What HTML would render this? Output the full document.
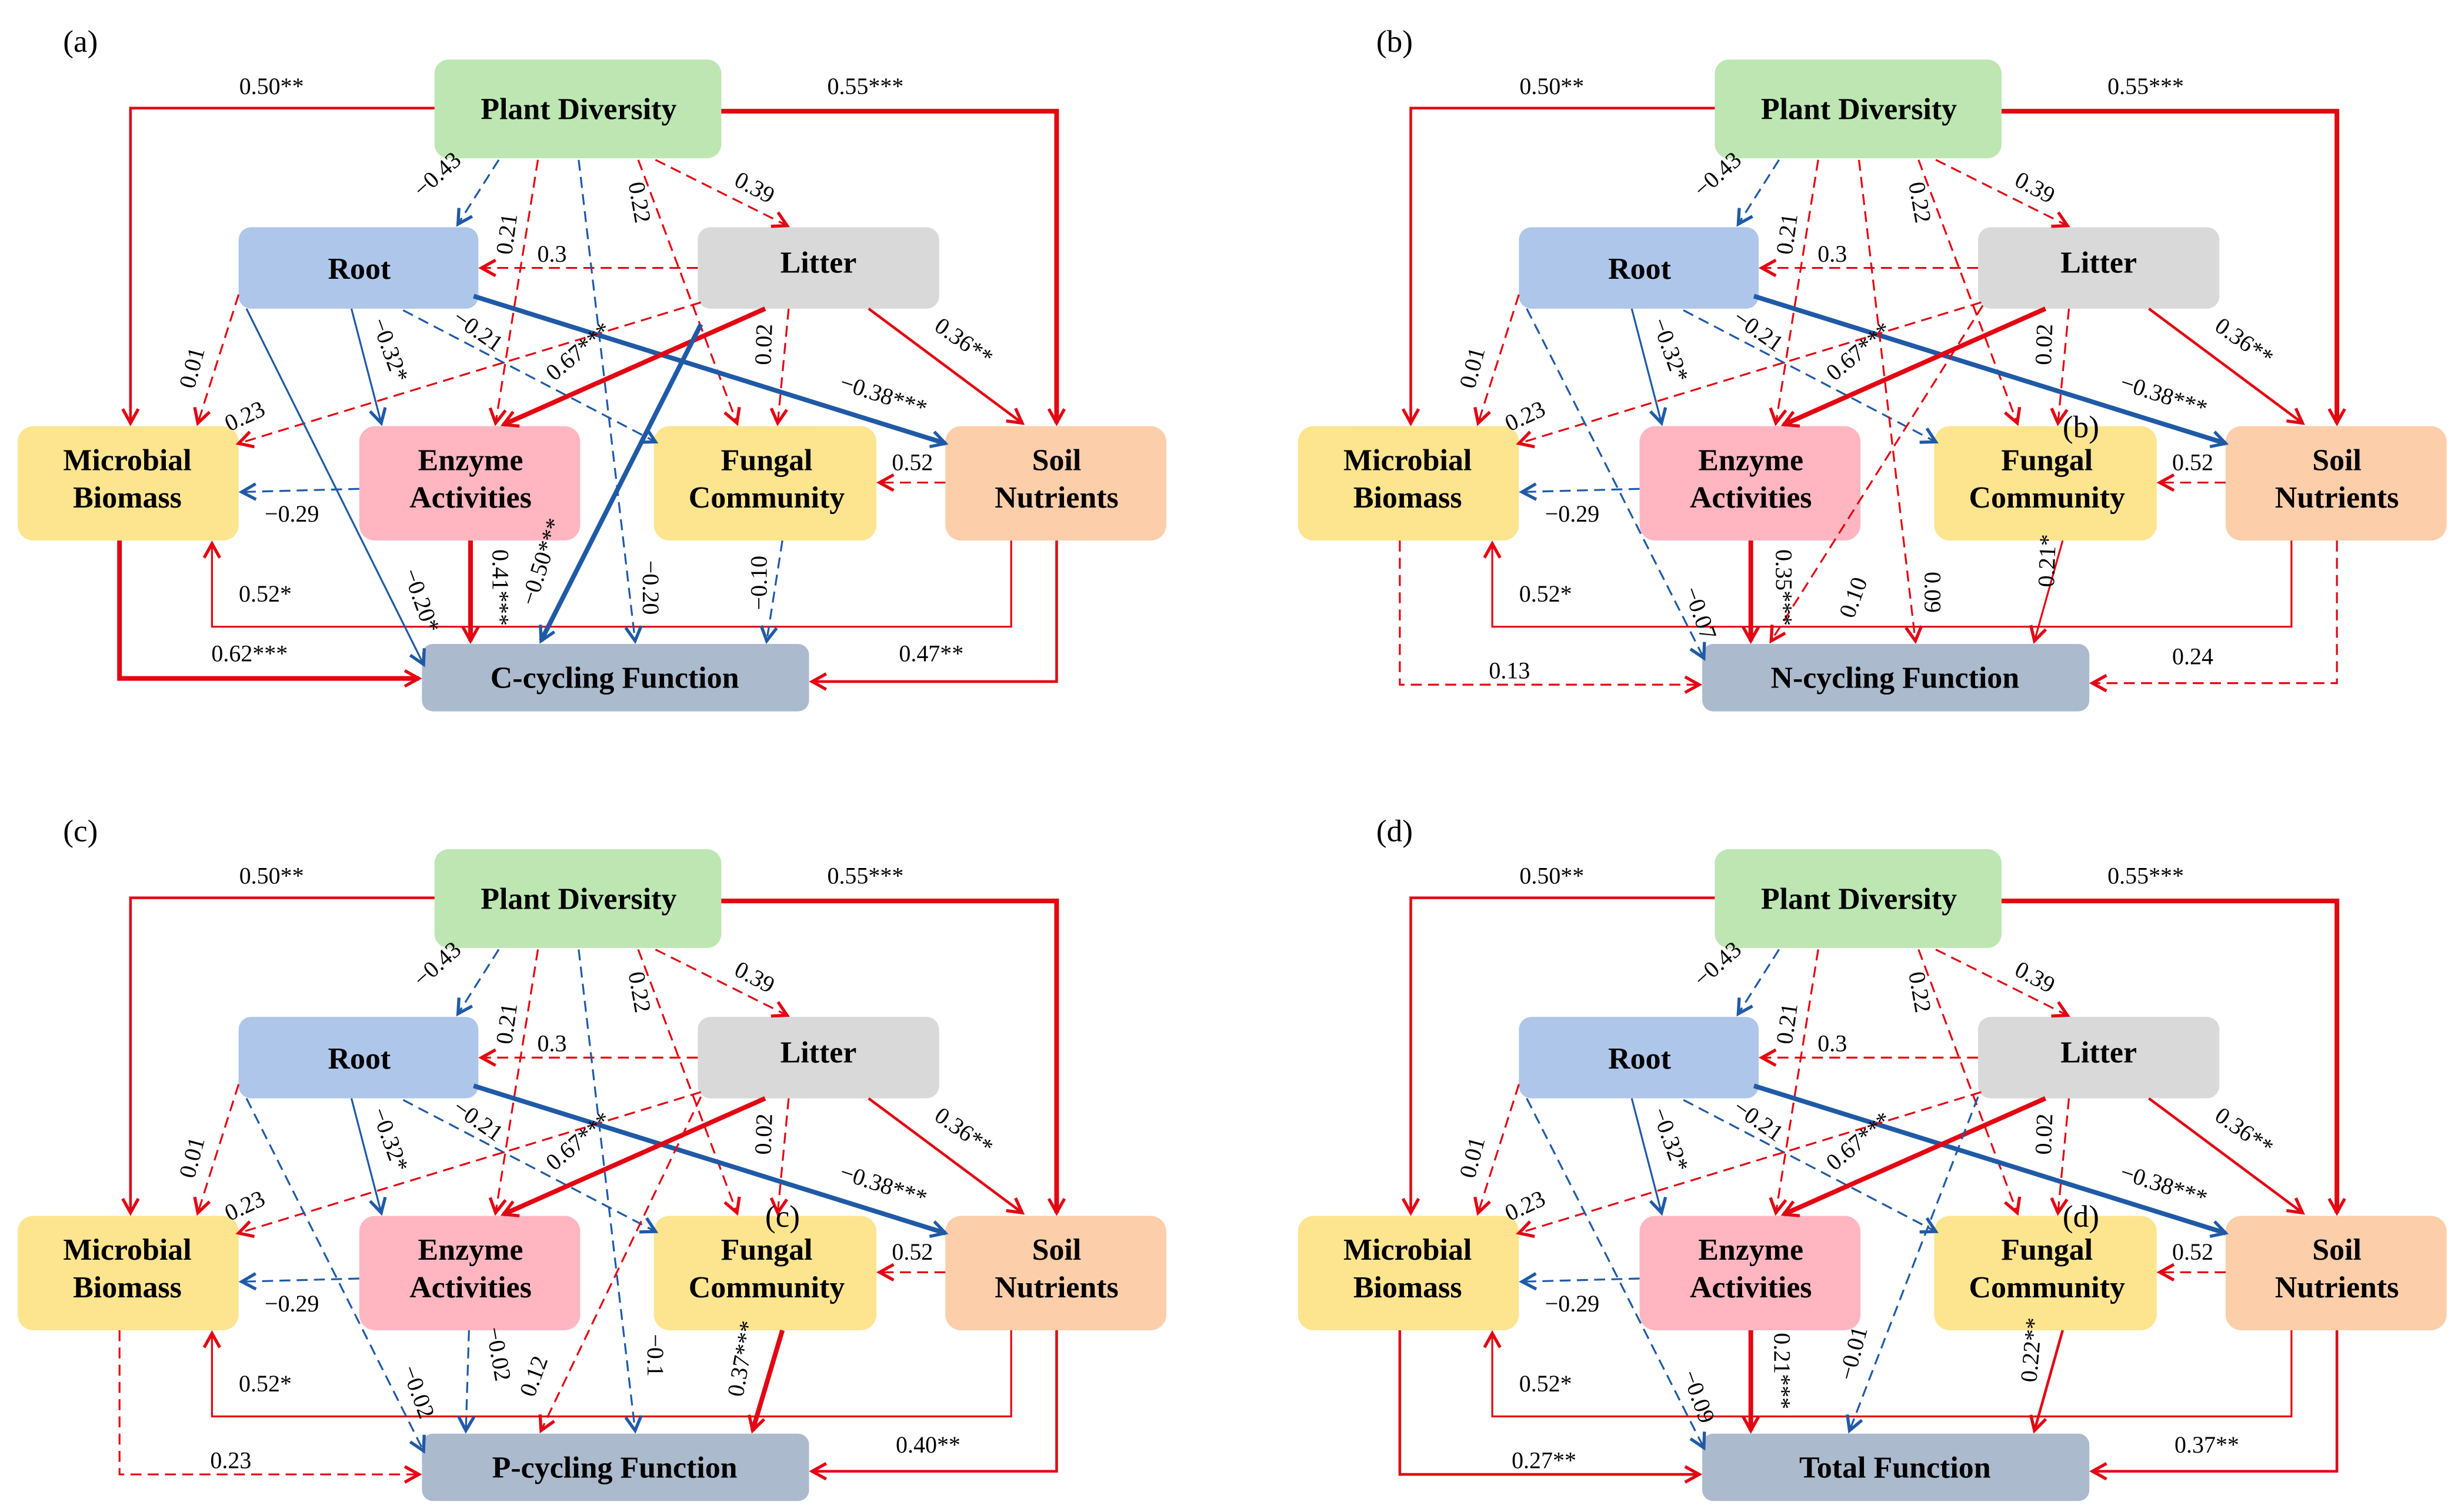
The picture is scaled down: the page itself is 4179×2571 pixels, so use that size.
<!DOCTYPE html>
<html><head><meta charset="utf-8"><style>
html,body{margin:0;padding:0;background:#fff;}
svg{display:block;}
text{font-family:"Liberation Serif",serif;fill:#000;}
.bt{font-family:"Liberation Serif",serif;font-weight:bold;font-size:19.5px;text-anchor:middle;}
.lb{font-family:"Liberation Serif",serif;font-size:15px;text-anchor:middle;}
.pl{font-family:"Liberation Serif",serif;font-size:20px;}
.r{stroke:#e30613;fill:none;}
.b{stroke:#1f5aa6;fill:none;}
.d{stroke-dasharray:7,4;}
.t1{stroke-width:1.2;}
.t2{stroke-width:1.7;}
.t3{stroke-width:3;}
</style></head><body>
<svg width="4179" height="2571" viewBox="0 0 1568 965" xmlns="http://www.w3.org/2000/svg">
<defs>
<marker id="ar" markerUnits="userSpaceOnUse" markerWidth="14" markerHeight="14" refX="10" refY="6" orient="auto"><path d="M1,1 L10,6 L1,11" fill="none" stroke="#e30613" stroke-width="2"/></marker>
<marker id="ab" markerUnits="userSpaceOnUse" markerWidth="14" markerHeight="14" refX="10" refY="6" orient="auto"><path d="M1,1 L10,6 L1,11" fill="none" stroke="#1f5aa6" stroke-width="2"/></marker>
</defs>

<g id="pa">
<rect x="277" y="38" width="183" height="63" rx="9" fill="#bde6b3"/>
<rect x="152" y="145" width="153" height="52" rx="8" fill="#aec6ea"/>
<rect x="445" y="145" width="154" height="52" rx="8" fill="#d9d9d9"/>
<rect x="11" y="272" width="141" height="73" rx="10" fill="#fde48f"/>
<rect x="229" y="272" width="141" height="73" rx="10" fill="#ffb6c1"/>
<rect x="417" y="272" width="142" height="73" rx="10" fill="#fde48f"/>
<rect x="603" y="272" width="141" height="73" rx="10" fill="#fcceaa"/>
<rect x="269" y="411" width="247" height="43" rx="7" fill="#acbacd"/>
<text class="bt" x="369" y="76">Plant Diversity</text>
<text class="bt" x="229" y="178">Root</text>
<text class="bt" x="522" y="174">Litter</text>
<text class="bt" x="81" y="300">Microbial</text><text class="bt" x="81" y="324">Biomass</text>
<text class="bt" x="300" y="300">Enzyme</text><text class="bt" x="300" y="324">Activities</text>
<text class="bt" x="489" y="300">Fungal</text><text class="bt" x="489" y="324">Community</text>
<text class="bt" x="674" y="300">Soil</text><text class="bt" x="674" y="324">Nutrients</text>

<polyline class="r t2" points="277,69 83,69 83,270" marker-end="url(#ar)"/>
<polyline class="r t3" points="460,71 674,71 674,270" marker-end="url(#ar)"/>
<line class="b d t1" x1="318" y1="102" x2="292" y2="143" marker-end="url(#ab)"/>
<line class="r d t1" x1="343" y1="102" x2="316" y2="270" marker-end="url(#ar)"/>
<line class="r d t1" x1="407" y1="102" x2="470" y2="270" marker-end="url(#ar)"/>
<line class="r d t1" x1="418" y1="102" x2="502" y2="144" marker-end="url(#ar)"/>
<line class="r d t1" x1="445" y1="171" x2="307" y2="171" marker-end="url(#ar)"/>
<line class="r d t1" x1="152" y1="188" x2="126" y2="270" marker-end="url(#ar)"/>
<line class="b t1" x1="224" y1="197" x2="243" y2="270" marker-end="url(#ab)"/>
<line class="b d t1" x1="257" y1="198" x2="418" y2="282" marker-end="url(#ab)"/>
<line class="b t3" x1="302" y1="189" x2="603" y2="283" marker-end="url(#ab)"/>
<line class="r d t1" x1="447" y1="193" x2="152" y2="283" marker-end="url(#ar)"/>
<line class="r t3" x1="488" y1="197" x2="321" y2="271" marker-end="url(#ar)"/>
<line class="r d t1" x1="503" y1="197" x2="496" y2="270" marker-end="url(#ar)"/>
<line class="r t2" x1="554" y1="197" x2="652" y2="270" marker-end="url(#ar)"/>
<line class="r d t1" x1="603" y1="308" x2="561" y2="308" marker-end="url(#ar)"/>
<line class="b d t1" x1="229" y1="312" x2="154" y2="314" marker-end="url(#ab)"/>
<polyline class="r t1" points="645,345 645,400 135,400 135,347" marker-end="url(#ar)"/>

<text class="lb" x="173" y="60">0.50**</text>
<text class="lb" x="552" y="60">0.55***</text>
<text class="lb" transform="rotate(-42 282 115)" x="282" y="115">−0.43</text>
<text class="lb" transform="rotate(-82 328 150)" x="328" y="150">0.21</text>
<text class="lb" transform="rotate(80 403 130)" x="403" y="130">0.22</text>
<text class="lb" transform="rotate(28 479 124)" x="479" y="124">0.39</text>
<text class="lb" x="352" y="167">0.3</text>
<text class="lb" transform="rotate(-75 127 236)" x="127" y="236">0.01</text>
<text class="lb" transform="rotate(70 244 225)" x="244" y="225">−0.32*</text>
<text class="lb" transform="rotate(35 302 215)" x="302" y="215">−0.21</text>
<text class="lb" transform="rotate(-40 372 228)" x="372" y="228">0.67***</text>
<text class="lb" transform="rotate(-88 492 220)" x="492" y="220">0.02</text>
<text class="lb" transform="rotate(35 612 222)" x="612" y="222">0.36**</text>
<text class="lb" transform="rotate(18 562 257)" x="562" y="257">−0.38***</text>
<text class="lb" transform="rotate(-25 158 270)" x="158" y="270">0.23</text>
<text class="lb" x="582" y="300">0.52</text>
<text class="lb" x="186" y="333">−0.29</text>
<text class="lb" x="169" y="384">0.52*</text>
</g>
<use href="#pa" x="817" y="0"/>
<use href="#pa" x="0" y="504"/>
<use href="#pa" x="817" y="504"/>

<text class="pl" x="40" y="33">(a)</text>
<text class="pl" x="878" y="33">(b)</text>
<text class="pl" x="40" y="537">(c)</text>
<text class="pl" x="878" y="537">(d)</text>
<text class="pl" x="1316" y="279">(b)</text>
<text class="pl" x="488" y="783">(c)</text>
<text class="pl" x="1316" y="783">(d)</text>

<text class="bt" x="392" y="439">C-cycling Function</text>
<line class="b d t1" x1="369" y1="102" x2="405" y2="409" marker-end="url(#ab)"/>
<line class="b t1" x1="157" y1="197" x2="270" y2="424" marker-end="url(#ab)"/>
<line class="b t3" x1="447" y1="207" x2="345" y2="409" marker-end="url(#ab)"/>
<line class="r t3" x1="300" y1="345" x2="300" y2="409" marker-end="url(#ar)"/>
<line class="b d t1" x1="499" y1="345" x2="489" y2="409" marker-end="url(#ab)"/>
<polyline class="r t3" points="76,345 76,433 267,433" marker-end="url(#ar)"/>
<polyline class="r t2" points="674,345 674,435 518,435" marker-end="url(#ar)"/>
<text class="lb" transform="rotate(90 410 375)" x="410" y="375">−0.20</text>
<text class="lb" transform="rotate(70 264 385)" x="264" y="385">−0.20*</text>
<text class="lb" transform="rotate(-72 350 360)" x="350" y="360">−0.50***</text>
<text class="lb" transform="rotate(90 314 375)" x="314" y="375">0.41***</text>
<text class="lb" transform="rotate(-90 489 372)" x="489" y="372">−0.10</text>
<text class="lb" x="159" y="422">0.62***</text>
<text class="lb" x="594" y="422">0.47**</text>

<text class="bt" x="1209" y="439">N-cycling Function</text>
<line class="r d t1" x1="1186" y1="102" x2="1222" y2="409" marker-end="url(#ar)"/>
<line class="b d t1" x1="974" y1="197" x2="1087" y2="420" marker-end="url(#ab)"/>
<line class="r d t1" x1="1265" y1="195" x2="1130" y2="409" marker-end="url(#ar)"/>
<line class="r t3" x1="1117" y1="345" x2="1117" y2="409" marker-end="url(#ar)"/>
<line class="r t1" x1="1316" y1="345" x2="1298" y2="409" marker-end="url(#ar)"/>
<polyline class="r d t1" points="893,345 893,437 1084,437" marker-end="url(#ar)"/>
<polyline class="r d t1" points="1491,345 1491,436 1335,436" marker-end="url(#ar)"/>
<text class="lb" transform="rotate(70 1080 393)" x="1080" y="393">−0.07</text>
<text class="lb" transform="rotate(90 1133 375)" x="1133" y="375">0.35***</text>
<text class="lb" transform="rotate(-70 1187 383)" x="1187" y="383">0.10</text>
<text class="lb" transform="rotate(90 1228 378)" x="1228" y="378">0.09</text>
<text class="lb" transform="rotate(-88 1311 358)" x="1311" y="358">0.21*</text>
<text class="lb" x="963" y="433">0.13</text>
<text class="lb" x="1399" y="424">0.24</text>

<text class="bt" x="392" y="943">P-cycling Function</text>
<line class="b d t1" x1="369" y1="606" x2="405" y2="913" marker-end="url(#ab)"/>
<line class="b d t1" x1="157" y1="701" x2="270" y2="926" marker-end="url(#ab)"/>
<line class="r d t1" x1="447" y1="700" x2="345" y2="913" marker-end="url(#ar)"/>
<line class="b d t1" x1="299" y1="849" x2="297" y2="913" marker-end="url(#ab)"/>
<line class="r t3" x1="499" y1="849" x2="480" y2="913" marker-end="url(#ar)"/>
<polyline class="r d t1" points="76,849 76,941 267,941" marker-end="url(#ar)"/>
<polyline class="r t2" points="674,849 674,939 518,939" marker-end="url(#ar)"/>
<text class="lb" transform="rotate(70 262 890)" x="262" y="890">−0.02</text>
<text class="lb" transform="rotate(80 313 865)" x="313" y="865">−0.02</text>
<text class="lb" transform="rotate(-70 345 880)" x="345" y="880">0.12</text>
<text class="lb" transform="rotate(90 413 865)" x="413" y="865">−0.1</text>
<text class="lb" transform="rotate(-80 478 868)" x="478" y="868">0.37***</text>
<text class="lb" x="147" y="937">0.23</text>
<text class="lb" x="592" y="927">0.40**</text>

<text class="bt" x="1209" y="943">Total Function</text>
<line class="b d t1" x1="974" y1="701" x2="1087" y2="924" marker-end="url(#ab)"/>
<line class="b d t1" x1="1262" y1="700" x2="1180" y2="913" marker-end="url(#ab)"/>
<line class="r t3" x1="1117" y1="849" x2="1117" y2="913" marker-end="url(#ar)"/>
<line class="r t2" x1="1316" y1="849" x2="1298" y2="913" marker-end="url(#ar)"/>
<polyline class="r t2" points="893,849 893,941 1084,941" marker-end="url(#ar)"/>
<polyline class="r t2" points="1491,849 1491,939 1335,939" marker-end="url(#ar)"/>
<text class="lb" transform="rotate(70 1079 893)" x="1079" y="893">−0.09</text>
<text class="lb" transform="rotate(90 1132 875)" x="1132" y="875">0.21***</text>
<text class="lb" transform="rotate(-75 1187 865)" x="1187" y="865">−0.01</text>
<text class="lb" transform="rotate(-85 1301 862)" x="1301" y="862">0.22**</text>
<text class="lb" x="985" y="937">0.27**</text>
<text class="lb" x="1408" y="927">0.37**</text>
</svg>
</body></html>
